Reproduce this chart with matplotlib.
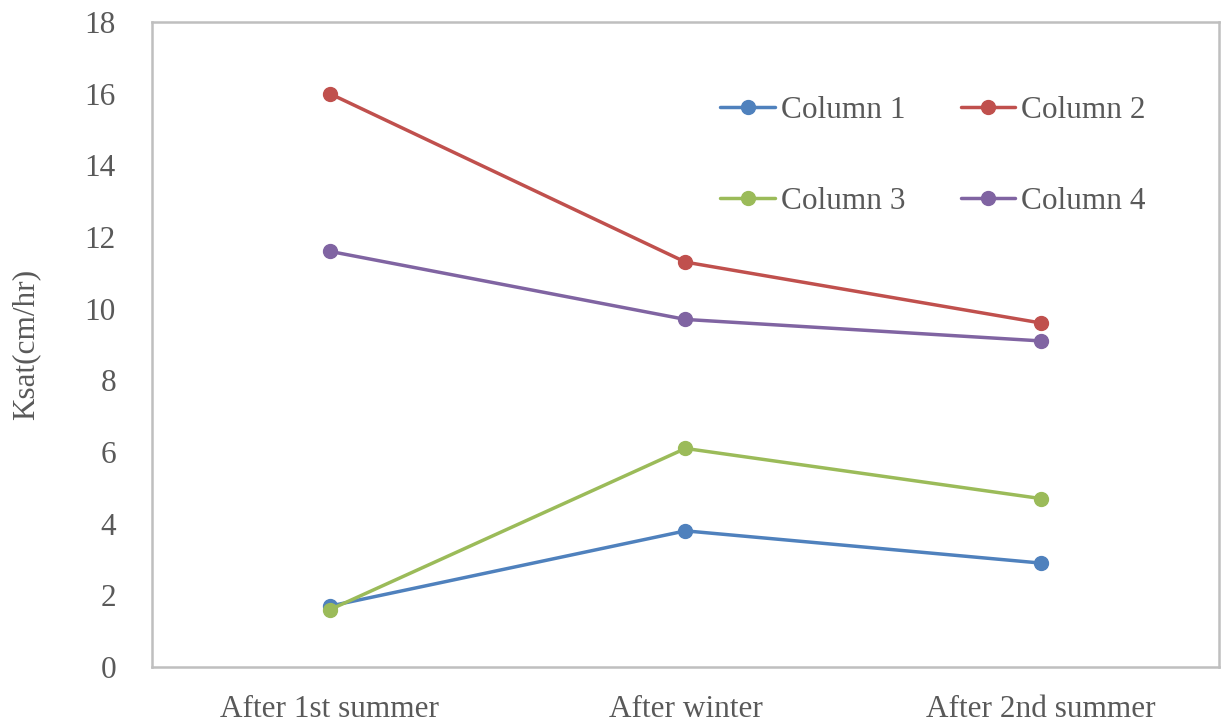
import matplotlib
matplotlib.use("Agg")
import matplotlib.pyplot as plt

categories = ["After 1st summer", "After winter", "After 2nd summer"]
column_1 = [1.7, 3.8, 2.9]
column_2 = [16.0, 11.3, 9.6]
column_3 = [1.6, 6.1, 4.7]
column_4 = [11.6, 9.7, 9.1]
series_names = ["Column 1", "Column 2", "Column 3", "Column 4"]
series_colors = ["#4F81BD", "#C0504D", "#9BBB59", "#8064A2"]
y_ticks = [0, 2, 4, 6, 8, 10, 12, 14, 16, 18]

plt.rcParams["font.family"] = ["Liberation Serif", "DejaVu Serif"]
text_color = "#595959"
fs = 22.5

fig = plt.figure(figsize=(12.22, 7.24), dpi=100)
ax = fig.add_axes([0.1244, 0.0787, 0.8731, 0.8909])

x = list(range(len(categories)))
handles = []
for vals, name, col in zip([column_1, column_2, column_3, column_4], series_names, series_colors):
    h, = ax.plot(x, vals, color=col, lw=2.5, marker="o", markersize=10,
                 label=name, solid_capstyle="round")
    handles.append(h)

ax.set_xlim(-0.5, 2.5)
ax.set_ylim(0, 18)
ax.set_xticks(x)
ax.set_xticklabels(categories)
ax.set_yticks(y_ticks)
ax.tick_params(axis="both", length=0, labelsize=fs, colors=text_color)
ax.tick_params(axis="y", pad=26)
ax.tick_params(axis="x", pad=20)
for s in ax.spines.values():
    s.set_color("#BFBFBF")
    s.set_linewidth(1.8)

ax.set_ylabel("Ksat(cm/hr)", fontsize=fs, color=text_color, labelpad=32)

# two columns, filled row by row
order = [0, 2, 1, 3]
leg = ax.legend(handles=[handles[i] for i in order], ncol=2, loc="upper left",
                bbox_to_anchor=(0.521, 0.905), frameon=False,
                fontsize=fs, handlelength=1.75, handletextpad=0.2,
                columnspacing=1.75, labelspacing=2.0, borderaxespad=0)
for t in leg.get_texts():
    t.set_color(text_color)

fig.savefig("out.png", dpi=100)
